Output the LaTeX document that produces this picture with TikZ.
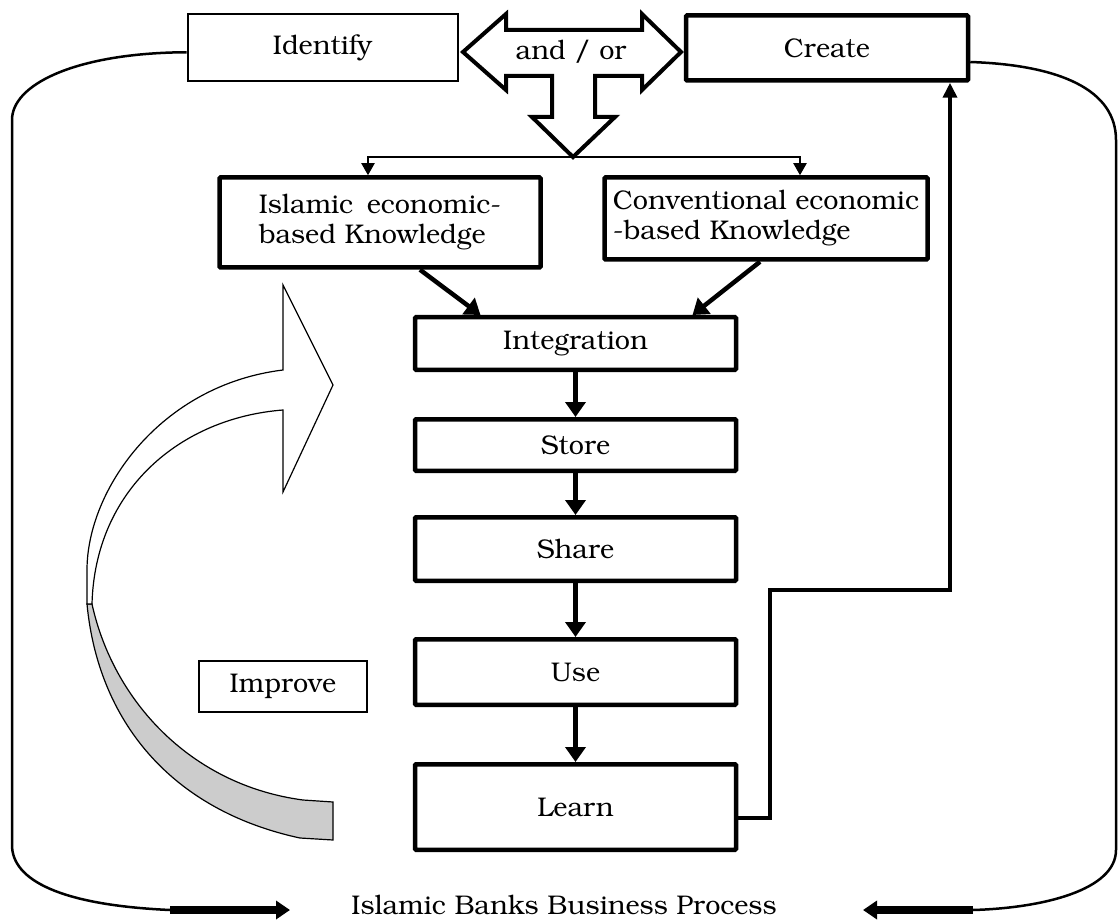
\documentclass[tikz,border=0pt]{standalone}
\usepackage[T1]{fontenc}
\usepackage{bookman}
\usetikzlibrary{arrows.meta}
\begin{document}
\begin{tikzpicture}[x=1pt,y=-1pt,
  txt/.style={font=\fontsize{27}{30}\selectfont},
  thinbox/.style={draw,line width=2pt,txt},
  thickbox/.style={draw,line width=4.5pt,rounded corners=1pt,txt},
  stepbox/.style={thickbox,minimum width=321pt},
  flowarrow/.style={line width=4.5pt,-{Triangle[length=15pt,width=20pt]}},
  splitarrow/.style={line width=2pt,-{Triangle[length=12pt,width=13pt]}},
  loopline/.style={line width=2.5pt},
  bigarrow/.style={line width=8pt,-{Triangle[length=14pt,width=18pt]}}]
\useasboundingbox (0,0) rectangle (1120,920);
%top boxes
\node[thinbox,minimum width=270pt,minimum height=67pt] (identify) at (322.5,47.5) {Identify};
\node[thickbox,minimum width=282pt,minimum height=65pt] (create) at (827,48) {Create};
%and/or block arrow
\draw[line width=4pt] (463,52)--(506,14)--(506,30)--(642,30)--(642,14)--(681,52)--(642,90)--(642,76)--(595,76)--(595,117)--(615,117)--(573,157)--(532,117)--(552,117)--(552,76)--(506,76)--(506,90)--cycle;
\node[txt] (andor) at (571,52) {and / or};
\coordinate (split) at (573,157);
%knowledge boxes
\node[thickbox,minimum width=321pt,minimum height=90pt,align=left] (islamic) at (380,222.5) {Islamic\hspace{0.5em}economic-\\based Knowledge};
\node[thickbox,minimum width=323pt,minimum height=82pt,align=left] (conv) at (766,218.5) {Conventional economic\\-based Knowledge};
%process chain
\node[stepbox,minimum height=52.5pt] (integ) at (575.5,343.5) {Integration};
\node[stepbox,minimum height=51.5pt] (store) at (575.5,445) {Store};
\node[stepbox,minimum height=63.5pt] (share) at (575.5,549) {Share};
\node[stepbox,minimum height=65.5pt] (use) at (575.5,672) {Use};
\node[stepbox,minimum height=85.5pt] (learn) at (575.5,807) {Learn};
\node[thinbox,line width=1.5pt,minimum width=168pt,minimum height=51pt] (improve) at (283,686.5) {Improve};
\node[txt,anchor=base,inner sep=1pt] (title) at (564,914) {Islamic Banks Business Process};
%connectors
\draw[splitarrow] (split) -| ([xshift=-12pt]islamic.north);
\draw[splitarrow] (split) -| ([xshift=34pt]conv.north);
\draw[flowarrow] ([xshift=40pt]islamic.south) -- ([xshift=-95pt]integ.north);
\draw[flowarrow] ([xshift=-6pt]conv.south) -- ([xshift=117pt]integ.north);
\foreach \a/\b in {integ/store,store/share,share/use,use/learn}{\draw[flowarrow] (\a) -- (\b);}
\coordinate (turn) at (770,590);
\draw[flowarrow,-{Triangle[length=15pt,width=14pt]}] ([yshift=-11pt]learn.east) -| (turn) -| ([xshift=123pt]create.south);
%improve arrow
\filldraw[fill=black!20,line width=1.2pt] (87,604) .. controls (98,720) and (170,810) .. (300,838) -- (333,840) -- (333,802) -- (303,800) .. controls (190,785) and (113,700) .. (92,604) -- cycle;
\filldraw[fill=white,line width=1.2pt] (87,604) -- (87,570) .. controls (87,490) and (160,385) .. (283,370) -- (283,285) -- (333,385) -- (283,492) -- (283,410) .. controls (180,418) and (95,490) .. (92,604) -- cycle;
%outer loop
\coordinate (lcorner) at (170,910);
\coordinate (larrow) at (290,910);
\coordinate (rcorner) at (973,910);
\coordinate (rarrow) at (863,910);
\draw[loopline] ([yshift=-5pt]identify.west) -- ++(-14,0) .. controls +(-100,3) and +(0,-35) .. (12,120) -- (12,845) .. controls +(0,35) and +(-110,-5) .. (lcorner);
\draw[bigarrow] (lcorner) -- (larrow);
\draw[loopline] ([yshift=-14pt]create.east) .. controls +(90,3) and +(0,-50) .. (1116,140) -- (1116,850) .. controls +(0,40) and +(70,-2) .. (rcorner);
\draw[bigarrow] (rcorner) -- (rarrow);
\end{tikzpicture}
\end{document}
